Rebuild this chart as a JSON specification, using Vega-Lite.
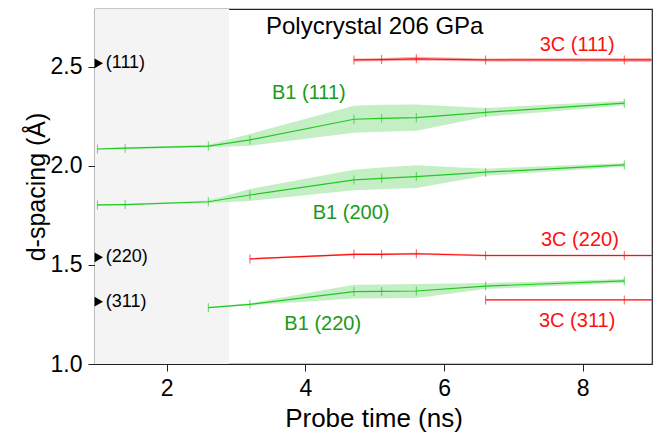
{
  "$schema": "https://vega.github.io/schema/vega-lite/v6.json",
  "width": 557,
  "height": 355,
  "autosize": {"type": "none"},
  "padding": {"left": 95, "top": 9, "right": 10, "bottom": 75},
  "config": {
    "font": "Liberation Sans",
    "view": {"stroke": "#222222", "strokeWidth": 1.2},
    "axis": {
      "domainColor": "#222222", "tickColor": "#222222", "grid": false,
      "labelFontSize": 23, "titleFontSize": 25, "labelColor": "#000000", "titleColor": "#000000",
      "titleFontWeight": "normal", "tickSize": 7, "labelFont": "Liberation Sans", "titleFont": "Liberation Sans"
    }
  },
  "datasets": {
    "series": [
      {"s": "B1_111", "phase": "B1", "x": 1.0, "y": 2.084, "lo": 2.079, "hi": 2.089},
      {"s": "B1_111", "phase": "B1", "x": 1.4, "y": 2.088, "lo": 2.083, "hi": 2.093},
      {"s": "B1_111", "phase": "B1", "x": 2.6, "y": 2.099, "lo": 2.093, "hi": 2.105},
      {"s": "B1_111", "phase": "B1", "x": 3.2, "y": 2.130, "lo": 2.100, "hi": 2.160},
      {"s": "B1_111", "phase": "B1", "x": 4.7, "y": 2.234, "lo": 2.166, "hi": 2.302},
      {"s": "B1_111", "phase": "B1", "x": 5.1, "y": 2.239, "lo": 2.171, "hi": 2.307},
      {"s": "B1_111", "phase": "B1", "x": 5.6, "y": 2.242, "lo": 2.176, "hi": 2.308},
      {"s": "B1_111", "phase": "B1", "x": 6.6, "y": 2.269, "lo": 2.247, "hi": 2.291},
      {"s": "B1_111", "phase": "B1", "x": 8.6, "y": 2.315, "lo": 2.303, "hi": 2.327},
      {"s": "B1_200", "phase": "B1", "x": 1.0, "y": 1.802, "lo": 1.798, "hi": 1.806},
      {"s": "B1_200", "phase": "B1", "x": 1.4, "y": 1.804, "lo": 1.800, "hi": 1.808},
      {"s": "B1_200", "phase": "B1", "x": 2.6, "y": 1.818, "lo": 1.812, "hi": 1.824},
      {"s": "B1_200", "phase": "B1", "x": 3.2, "y": 1.852, "lo": 1.822, "hi": 1.882},
      {"s": "B1_200", "phase": "B1", "x": 4.7, "y": 1.928, "lo": 1.876, "hi": 1.980},
      {"s": "B1_200", "phase": "B1", "x": 5.1, "y": 1.936, "lo": 1.881, "hi": 1.991},
      {"s": "B1_200", "phase": "B1", "x": 5.6, "y": 1.945, "lo": 1.888, "hi": 2.002},
      {"s": "B1_200", "phase": "B1", "x": 6.6, "y": 1.967, "lo": 1.949, "hi": 1.985},
      {"s": "B1_200", "phase": "B1", "x": 8.6, "y": 2.004, "lo": 1.994, "hi": 2.014},
      {"s": "B1_220", "phase": "B1", "x": 2.6, "y": 1.284, "lo": 1.281, "hi": 1.287},
      {"s": "B1_220", "phase": "B1", "x": 3.2, "y": 1.301, "lo": 1.296, "hi": 1.306},
      {"s": "B1_220", "phase": "B1", "x": 4.7, "y": 1.365, "lo": 1.330, "hi": 1.400},
      {"s": "B1_220", "phase": "B1", "x": 5.1, "y": 1.366, "lo": 1.331, "hi": 1.401},
      {"s": "B1_220", "phase": "B1", "x": 5.6, "y": 1.368, "lo": 1.333, "hi": 1.403},
      {"s": "B1_220", "phase": "B1", "x": 6.6, "y": 1.393, "lo": 1.378, "hi": 1.408},
      {"s": "B1_220", "phase": "B1", "x": 8.6, "y": 1.419, "lo": 1.409, "hi": 1.429},
      {"s": "3C_111", "phase": "3C", "x": 4.7, "y": 2.533, "lo": 2.525, "hi": 2.541},
      {"s": "3C_111", "phase": "3C", "x": 5.1, "y": 2.535, "lo": 2.527, "hi": 2.543},
      {"s": "3C_111", "phase": "3C", "x": 5.6, "y": 2.539, "lo": 2.529, "hi": 2.549},
      {"s": "3C_111", "phase": "3C", "x": 6.6, "y": 2.533, "lo": 2.525, "hi": 2.541},
      {"s": "3C_111", "phase": "3C", "x": 8.6, "y": 2.533, "lo": 2.523, "hi": 2.543},
      {"s": "3C_111", "phase": "3C", "x": 10.0, "y": 2.533, "lo": 2.523, "hi": 2.543},
      {"s": "3C_220", "phase": "3C", "x": 3.2, "y": 1.530, "lo": 1.526, "hi": 1.534},
      {"s": "3C_220", "phase": "3C", "x": 4.7, "y": 1.553, "lo": 1.548, "hi": 1.558},
      {"s": "3C_220", "phase": "3C", "x": 5.1, "y": 1.553, "lo": 1.548, "hi": 1.558},
      {"s": "3C_220", "phase": "3C", "x": 5.6, "y": 1.556, "lo": 1.551, "hi": 1.561},
      {"s": "3C_220", "phase": "3C", "x": 6.6, "y": 1.547, "lo": 1.542, "hi": 1.552},
      {"s": "3C_220", "phase": "3C", "x": 8.6, "y": 1.547, "lo": 1.542, "hi": 1.552},
      {"s": "3C_220", "phase": "3C", "x": 10.0, "y": 1.547, "lo": 1.542, "hi": 1.552},
      {"s": "3C_311", "phase": "3C", "x": 6.6, "y": 1.323, "lo": 1.321, "hi": 1.325},
      {"s": "3C_311", "phase": "3C", "x": 8.6, "y": 1.323, "lo": 1.321, "hi": 1.325},
      {"s": "3C_311", "phase": "3C", "x": 10.0, "y": 1.323, "lo": 1.321, "hi": 1.325}
    ],
    "labels": [
      {"text": "3C (111)", "phase": "3C", "x": 7.92, "y": 2.609},
      {"text": "B1 (111)", "phase": "B1", "x": 4.05, "y": 2.367},
      {"text": "B1 (200)", "phase": "B1", "x": 4.66, "y": 1.761},
      {"text": "3C (220)", "phase": "3C", "x": 7.96, "y": 1.625},
      {"text": "B1 (220)", "phase": "B1", "x": 4.25, "y": 1.200},
      {"text": "3C (311)", "phase": "3C", "x": 7.92, "y": 1.217}
    ],
    "refs": [
      {"text": "(111)", "x": 1.02, "tx": 1.12, "y": 2.516},
      {"text": "(220)", "x": 1.02, "tx": 1.12, "y": 1.538},
      {"text": "(311)", "x": 1.02, "tx": 1.12, "y": 1.314}
    ],
    "shade": [{"x": 0.9, "x2": 2.9}],
    "title": [{"text": "Polycrystal 206 GPa", "x": 5.0, "y": 2.70}]
  },
  "layer": [
    {
      "data": {"name": "shade"},
      "mark": {"type": "rect", "color": "#f4f4f4", "clip": true},
      "encoding": {
        "x": {"field": "x", "type": "quantitative", "scale": {"domain": [0.965, 9.0], "nice": false, "zero": false},
              "axis": {"values": [2, 4, 6, 8], "format": "d", "title": "Probe time (ns)", "titleFontSize": 26, "labelPadding": 6, "titlePadding": 5}},
        "x2": {"field": "x2"}
      }
    },
    {
      "data": {"name": "series"},
      "transform": [{"filter": "datum.phase == 'B1'"}],
      "mark": {"type": "area", "color": "#c4efc4", "opacity": 1, "clip": true},
      "encoding": {
        "x": {"field": "x", "type": "quantitative"},
        "y": {"field": "lo", "type": "quantitative"},
        "y2": {"field": "hi"},
        "detail": {"field": "s"}
      }
    },
    {
      "data": {"name": "series"},
      "transform": [{"filter": "datum.phase == '3C'"}],
      "mark": {"type": "area", "color": "#f8b4b4", "opacity": 1, "clip": true},
      "encoding": {
        "x": {"field": "x", "type": "quantitative"},
        "y": {"field": "lo", "type": "quantitative"},
        "y2": {"field": "hi"},
        "detail": {"field": "s"}
      }
    },
    {
      "data": {"name": "series"},
      "mark": {"type": "line", "clip": true, "strokeWidth": 1.2},
      "encoding": {
        "x": {"field": "x", "type": "quantitative"},
        "y": {"field": "y", "type": "quantitative",
              "scale": {"domain": [1.0, 2.79], "nice": false, "zero": false},
              "axis": {"values": [1.0, 1.5, 2.0, 2.5], "format": ".1f", "title": "d-spacing (Å)", "labelPadding": 6, "titlePadding": 1}},
        "detail": {"field": "s"},
        "color": {"field": "phase", "type": "nominal", "scale": {"domain": ["B1", "3C"], "range": ["#22c822", "#ff1010"]}, "legend": null}
      }
    },
    {
      "data": {"name": "series"},
      "mark": {"type": "tick", "orient": "vertical", "size": 9, "thickness": 1, "clip": true},
      "encoding": {
        "x": {"field": "x", "type": "quantitative"},
        "y": {"field": "y", "type": "quantitative"},
        "color": {"field": "phase", "type": "nominal", "legend": null}
      }
    },
    {
      "data": {"name": "labels"},
      "mark": {"type": "text", "fontSize": 20, "align": "center", "baseline": "middle"},
      "encoding": {
        "x": {"field": "x", "type": "quantitative"},
        "y": {"field": "y", "type": "quantitative"},
        "text": {"field": "text"},
        "color": {"condition": {"test": "datum.phase == 'B1'", "value": "#1a9a1a"}, "value": "#ff1010"}
      }
    },
    {
      "data": {"name": "refs"},
      "mark": {"type": "point", "shape": "triangle-right", "filled": true, "color": "#000000", "size": 95, "opacity": 1},
      "encoding": {
        "x": {"field": "x", "type": "quantitative"},
        "y": {"field": "y", "type": "quantitative"}
      }
    },
    {
      "data": {"name": "refs"},
      "mark": {"type": "text", "fontSize": 18, "align": "left", "baseline": "middle", "color": "#000000"},
      "encoding": {
        "x": {"field": "tx", "type": "quantitative"},
        "y": {"field": "y", "type": "quantitative"},
        "text": {"field": "text"}
      }
    },
    {
      "data": {"name": "title"},
      "mark": {"type": "text", "fontSize": 24, "align": "center", "baseline": "middle", "color": "#000000"},
      "encoding": {
        "x": {"field": "x", "type": "quantitative"},
        "y": {"field": "y", "type": "quantitative"},
        "text": {"field": "text"}
      }
    }
  ]
}
